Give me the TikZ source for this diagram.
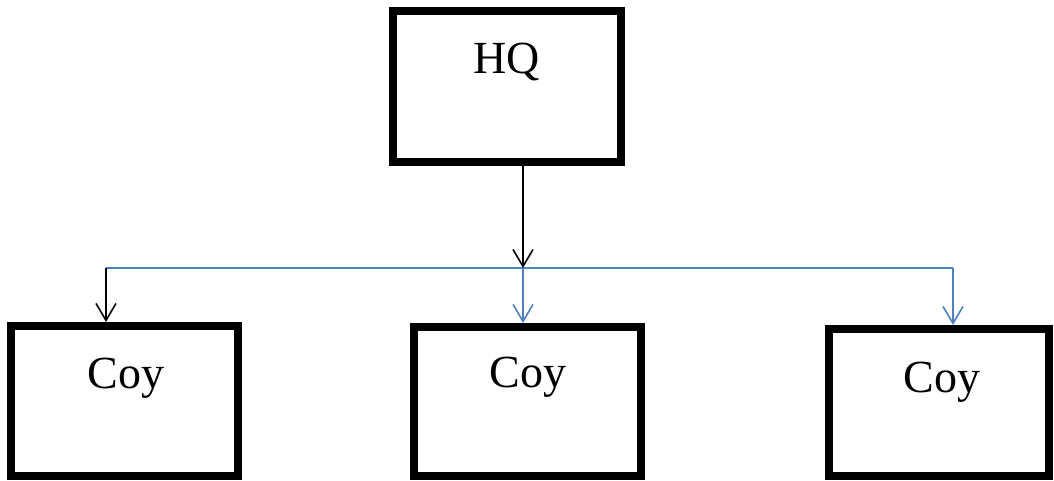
\documentclass[tikz,border=0pt]{standalone}
\usepackage{fontspec}
\setmainfont{Liberation Serif}
\usetikzlibrary{arrows.meta}
\definecolor{lineblue}{RGB}{79,129,189}
\begin{document}
\begin{tikzpicture}[x=1pt,y=-1pt,
  box/.style={draw=black,line width=8pt,rectangle,inner sep=0pt,fill=white},
  lbl/.style={font=\fontsize{46}{50}\selectfont,anchor=base,inner sep=0pt},
  conn/.style={line width=1.6pt,-{Straight Barb[length=17pt,width=20pt,line width=1.6pt]}},
  bl/.style={draw=lineblue},
  bk/.style={draw=black}]
\useasboundingbox (0,0) rectangle (1054,481);
\node[box,minimum width=228pt,minimum height=151pt] (hq) at (507,86.5) {};
\node[box,minimum width=227pt,minimum height=150pt] (cl) at (124.5,401) {};
\node[box,minimum width=227pt,minimum height=149pt] (cm) at (527.5,401.5) {};
\node[box,minimum width=220pt,minimum height=147pt] (cr) at (939,402.5) {};
\node[lbl] (hqt) at (507,74) {HQ};
\node[lbl] (clt) at (126,388) {Coy};
\node[lbl] (cmt) at (528,387) {Coy};
\node[lbl] (crt) at (942,392) {Coy};
\coordinate (jL) at (106,268);
\coordinate (jM) at (523,268);
\coordinate (jR) at (953,268);
\draw[bl,line width=1.6pt] (jL) -- (jR);
\draw[conn,bk] (hq.south -| jM) -- (jM);
\draw[conn,bk] (jL) -- (jL |- cl.north);
\draw[conn,bl] (jM) -- (jM |- cm.north);
\draw[conn,bl] (jR) -- (jR |- cr.north);
\end{tikzpicture}
\end{document}
